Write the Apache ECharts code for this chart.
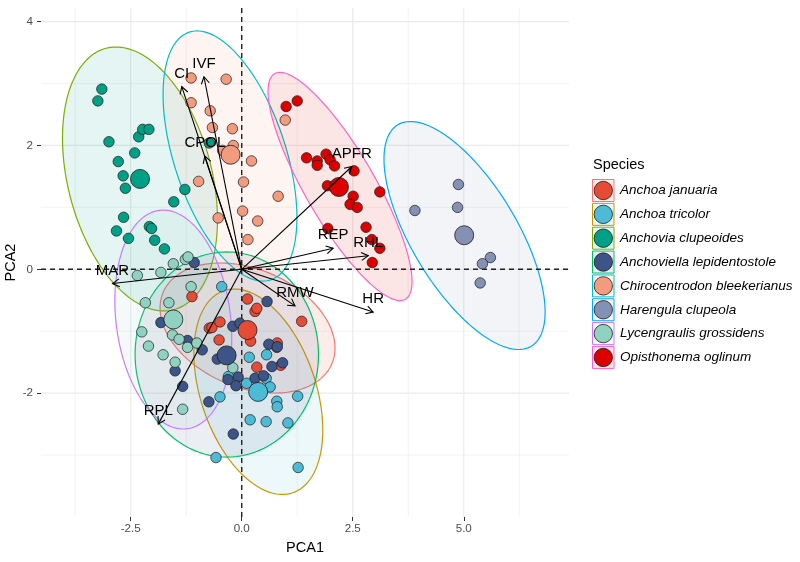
<!DOCTYPE html>
<html><head><meta charset="utf-8">
<script src="https://cdn.jsdelivr.net/npm/echarts@6/dist/echarts.min.js"></script>
<style>html,body{margin:0;padding:0;background:#fff}#chart{width:800px;height:562px}</style>
</head><body><div id="chart"></div>
<script>
// ---------------- DATA ----------------
const speciesNames = ['Anchoa januaria','Anchoa tricolor','Anchovia clupeoides','Anchoviella lepidentostole',
  'Chirocentrodon bleekerianus','Harengula clupeola','Lycengraulis grossidens','Opisthonema oglinum'];
const pointColors = ['#E64B35','#4DBBD5','#00A087','#3C5488','#F39B7F','#8491B4','#91D1C2','#DC0000'];
const ellipseColors = ['#F8766D','#CD9600','#7CAE00','#00BE67','#00BFC4','#00A9FF','#C77CFF','#FF61CC'];

const januariaPts = [[-1.12,-0.44],[0.13,-0.48],[0.30,-0.68],[0.34,-0.63],[1.35,-0.84],[-0.73,-0.95],[-0.67,-0.94],
  [-0.49,-0.85],[-0.51,-1.14],[0.20,-1.16],[0.80,-1.19],[0.79,-1.26],[0.34,-1.58],[0.88,-1.55]];
const tricolorPts = [[-0.45,-0.28],[0.17,-1.42],[0.56,-1.38],[-0.30,-1.73],[0.11,-1.84],[0.55,-1.76],[0.64,-1.90],
  [-0.49,-2.06],[0.79,-2.13],[0.80,-2.22],[1.26,-2.05],[0.19,-2.43],[0.55,-2.46],[1.04,-2.48],[-0.58,-3.04],[1.27,-3.20]];
const anchoviaPts = [[-3.15,2.91],[-3.24,2.72],[-2.99,2.06],[-2.32,2.14],[-2.23,2.26],[-2.09,2.26],[-2.41,1.88],
  [-2.78,1.74],[-2.67,1.51],[-2.62,1.31],[-1.28,1.29],[-1.53,1.09],[-2.66,0.84],[-2.82,0.62],[-2.55,0.50],
  [-2.08,0.69],[-2.03,0.66],[-1.96,0.47],[-1.74,0.33],[-0.73,2.04]];
const anchoviellaPts = [[-1.07,0.11],[0.57,-0.52],[-1.82,-0.86],[-1.22,-1.15],[-0.89,-1.30],[-0.20,-0.92],[-0.04,-0.87],
  [-0.55,-1.45],[-1.50,-1.64],[-1.33,-1.89],[-0.74,-2.14],[-0.08,-1.74],[-0.13,-1.88],[0.30,-1.76],[-0.31,-1.78],
  [0.61,-1.21],[0.80,-1.25],[0.68,-1.57],[0.92,-1.51],[0.49,-1.72],[-0.19,-2.66]];
const chirocentrodonPts = [[-1.14,3.09],[-0.35,3.07],[-1.14,2.69],[-0.71,2.56],[-0.66,2.29],[-0.21,2.27],[-0.19,2.00],
  [-0.43,1.92],[0.22,1.75],[-0.97,1.42],[0.04,1.41],[0.82,1.18],[0.02,0.94],[-0.53,0.83],[0.36,0.78],[0.14,0.48],[0.98,2.41]];
const harengulaPts = [[4.88,1.37],[3.90,0.95],[4.86,1.00],[5.60,0.19],[5.42,0.09],[5.37,-0.22]];
const lycengraulisPts = [[-2.35,-0.10],[-1.82,-0.05],[-1.54,0.09],[-1.27,0.16],[-1.21,0.20],[-1.14,-0.28],[-2.17,-0.54],
  [-1.64,-0.54],[-2.25,-1.01],[-2.10,-1.24],[-1.77,-1.38],[-1.50,-1.50],[-1.56,-1.06],[-1.41,-1.13],[-1.22,-1.26],
  [-1.01,-1.19],[-1.33,-2.26],[-0.20,-1.59]];
const opisthonemaPts = [[1.00,2.63],[1.25,2.72],[1.46,1.80],[1.70,1.75],[1.70,1.68],[1.90,1.86],[1.99,1.77],[2.09,1.67],
  [2.53,1.59],[3.11,1.25],[1.93,1.35],[2.51,1.18],[2.44,1.05],[2.60,1.00],[1.94,0.66],[2.80,0.68],[2.93,0.48],
  [3.11,0.34],[2.94,0.11]];

const centroidX = [0.13, 0.37, -2.29, -0.34, -0.25, 5.01, -1.54, 2.19];
const centroidY = [-0.98, -1.98, 1.46, -1.39, 1.85, 0.55, -0.81, 1.33];

// ellipse: centre and two conjugate semi-axis vectors (data units)
const ellipseCenters = [[0.131,-0.948],[0.374,-1.977],[-2.291,1.459],[-0.336,-1.376],[-0.264,1.830],[5.018,0.546],[-1.541,-0.811],[2.214,1.338]];
const ellipseAxisU = [[-1.901,0.574],[-0.775,1.632],[-0.761,2.111],[0,1.656],[-0.917,2.000],[-1.502,1.788],[-0.311,1.764],[-1.473,1.821]];
const ellipseAxisV = [[0.516,0.879],[1.227,0.299],[1.570,0.291],[2.065,0],[1.196,0.281],[1.018,0.439],[1.279,0.116],[0.678,0.283]];

const loadingNames = ['CI','IVF','CPOL','APFR','REP','RHL','MAR','RMW','HR','RPL'];
const loadingX = [-1.35,-0.85,-0.83,2.48,2.06,2.85,-2.91,1.20,2.96,-1.88];
const loadingY = [2.95,3.11,1.83,1.66,0.34,0.22,-0.23,-0.59,-0.69,-2.50];

const xMin = -4.52, xMax = 7.37, yMin = -4.0, yMax = 4.22;
const xMajorTicks = [-2.5, 0, 2.5, 5];
const xMinorTicks = [-3.75, -1.25, 1.25, 3.75, 6.25];
const yMajorTicks = [-2, 0, 2, 4];
const yMinorTicks = [-3, -1, 1, 3];

// ---------------- CHART ----------------
const FONT = '"Liberation Sans", Arial, sans-serif';
function rgba(hex, a) {
  const n = parseInt(hex.slice(1), 16);
  return 'rgba(' + ((n >> 16) & 255) + ',' + ((n >> 8) & 255) + ',' + (n & 255) + ',' + a + ')';
}
const speciesPts = [januariaPts, tricolorPts, anchoviaPts, anchoviellaPts, chirocentrodonPts, harengulaPts, lycengraulisPts, opisthonemaPts];

const chart = echarts.init(document.getElementById('chart'));
const series = [];

// grid lines
series.push({
  type: 'custom', z: 1, silent: true, animation: false, data: [[0, 0]],
  renderItem: function (params, api) {
    const ch = [];
    function vline(v, w) { const a = api.coord([v, yMin]), b = api.coord([v, yMax]);
      ch.push({type: 'line', shape: {x1: a[0], y1: a[1], x2: b[0], y2: b[1]}, style: {stroke: '#ebebeb', lineWidth: w}}); }
    function hline(v, w) { const a = api.coord([xMin, v]), b = api.coord([xMax, v]);
      ch.push({type: 'line', shape: {x1: a[0], y1: a[1], x2: b[0], y2: b[1]}, style: {stroke: '#ebebeb', lineWidth: w}}); }
    xMinorTicks.forEach(v => vline(v, 0.6));
    yMinorTicks.forEach(v => hline(v, 0.6));
    xMajorTicks.forEach(v => vline(v, 1.2));
    yMajorTicks.forEach(v => hline(v, 1.2));
    return {type: 'group', children: ch};
  }
});

// ellipses
series.push({
  type: 'custom', z: 2, silent: true, animation: false,
  data: ellipseCenters.map((c, i) => [c[0], c[1], i]),
  renderItem: function (params, api) {
    const i = api.value(2);
    const c = ellipseCenters[i], U = ellipseAxisU[i], V = ellipseAxisV[i];
    const pts = [];
    for (let k = 0; k < 180; k++) {
      const t = 2 * Math.PI * k / 180;
      pts.push(api.coord([c[0] + Math.cos(t) * U[0] + Math.sin(t) * V[0], c[1] + Math.cos(t) * U[1] + Math.sin(t) * V[1]]));
    }
    return {type: 'polygon', shape: {points: pts},
      style: {fill: rgba(pointColors[i], 0.1), stroke: ellipseColors[i], lineWidth: 1.2}};
  }
});

// dashed zero lines
series.push({
  type: 'custom', z: 3, silent: true, animation: false, data: [[0, 0]],
  renderItem: function (params, api) {
    const a = api.coord([0, yMin]), b = api.coord([0, yMax]);
    const c = api.coord([xMin, 0]), d = api.coord([xMax, 0]);
    const st = {stroke: '#222', lineWidth: 1.4, lineDash: [5, 4]};
    return {type: 'group', children: [
      {type: 'line', shape: {x1: a[0], y1: a[1], x2: b[0], y2: b[1]}, style: st},
      {type: 'line', shape: {x1: c[0], y1: c[1], x2: d[0], y2: d[1]}, style: st}
    ]};
  }
});

// points
speciesPts.forEach((pts, i) => {
  series.push({
    type: 'scatter', name: speciesNames[i], z: 4, data: pts, symbolSize: 10.5, animation: false,
    itemStyle: {color: pointColors[i], borderColor: '#1a1a1a', borderWidth: 0.7, opacity: 1},
    emphasis: {disabled: true}
  });
});
// centroids
series.push({
  type: 'scatter', z: 5, symbolSize: 19, animation: false, emphasis: {disabled: true},
  data: centroidX.map((x, i) => ({value: [x, centroidY[i]], itemStyle: {color: pointColors[i]}})),
  itemStyle: {borderColor: '#1a1a1a', borderWidth: 0.8, opacity: 1}
});

// loading arrows
series.push({
  type: 'custom', z: 6, silent: true, animation: false,
  data: loadingX.map((x, i) => [x, loadingY[i], i]),
  renderItem: function (params, api) {
    const i = api.value(2);
    const p0 = api.coord([0, 0]), p1 = api.coord([api.value(0), api.value(1)]);
    const ang = Math.atan2(p1[1] - p0[1], p1[0] - p0[0]);
    const L = 8, w = Math.PI / 6;
    const h1 = [p1[0] - L * Math.cos(ang - w), p1[1] - L * Math.sin(ang - w)];
    const h2 = [p1[0] - L * Math.cos(ang + w), p1[1] - L * Math.sin(ang + w)];
    return {type: 'group', children: [
      {type: 'line', shape: {x1: p0[0], y1: p0[1], x2: p1[0], y2: p1[1]}, style: {stroke: '#000', lineWidth: 1.1}},
      {type: 'polyline', shape: {points: [h1, p1, h2]}, style: {stroke: '#000', lineWidth: 1.1, fill: null}},
      {type: 'text', x: p1[0], y: p1[1] - 13, style: {text: loadingNames[i], fontSize: 15, fontFamily: FONT,
        fill: '#000', align: 'center', verticalAlign: 'middle'}}
    ]};
  }
});

// legend graphics
const graphics = [];
graphics.push({type: 'text', x: 593, y: 165, style: {text: 'Species', fontSize: 14.5, fontFamily: FONT, fill: '#000', align: 'left', verticalAlign: 'middle'}});
speciesNames.forEach((n, i) => {
  const cy = 190.5 + 23.85 * i;
  graphics.push({type: 'rect', shape: {x: 592.5, y: cy - 11, width: 21.5, height: 22},
    style: {fill: rgba(pointColors[i], 0.1), stroke: ellipseColors[i], lineWidth: 1}});
  graphics.push({type: 'circle', shape: {cx: 603.3, cy: cy, r: 9.2},
    style: {fill: pointColors[i], stroke: '#1a1a1a', lineWidth: 0.8}});
  graphics.push({type: 'text', x: 620, y: cy, style: {text: n, fontSize: 13.5, fontStyle: 'italic', fontFamily: FONT,
    fill: '#000', align: 'left', verticalAlign: 'middle'}});
});

chart.setOption({
  animation: false,
  backgroundColor: '#fff',
  grid: {left: 41, right: 231, top: 8, bottom: 45, containLabel: false, outerBoundsMode: 'none'},
  xAxis: {
    type: 'value', min: xMin, max: xMax, name: 'PCA1', nameLocation: 'middle', nameGap: 23, nameMoveOverlap: false,
    nameTextStyle: {fontSize: 14.5, color: '#000', fontFamily: FONT},
    axisLine: {show: false, onZero: false},
    splitLine: {show: false},
    axisTick: {show: true, length: 4, customValues: xMajorTicks, lineStyle: {color: '#333', width: 1}},
    axisLabel: {customValues: xMajorTicks, margin: 6, fontSize: 11.6, color: '#4d4d4d', fontFamily: FONT,
      formatter: v => v.toFixed(1)}
  },
  yAxis: {
    type: 'value', min: yMin, max: yMax, name: 'PCA2', nameLocation: 'middle', nameGap: 23, nameMoveOverlap: false,
    nameTextStyle: {fontSize: 14.5, color: '#000', fontFamily: FONT},
    axisLine: {show: false, onZero: false},
    splitLine: {show: false},
    axisTick: {show: true, length: 4, customValues: yMajorTicks, lineStyle: {color: '#333', width: 1}},
    axisLabel: {customValues: yMajorTicks, margin: 8, fontSize: 11.6, color: '#4d4d4d', fontFamily: FONT,
      formatter: v => String(Math.round(v))}
  },
  series: series,
  graphic: graphics
});
</script></body></html>
